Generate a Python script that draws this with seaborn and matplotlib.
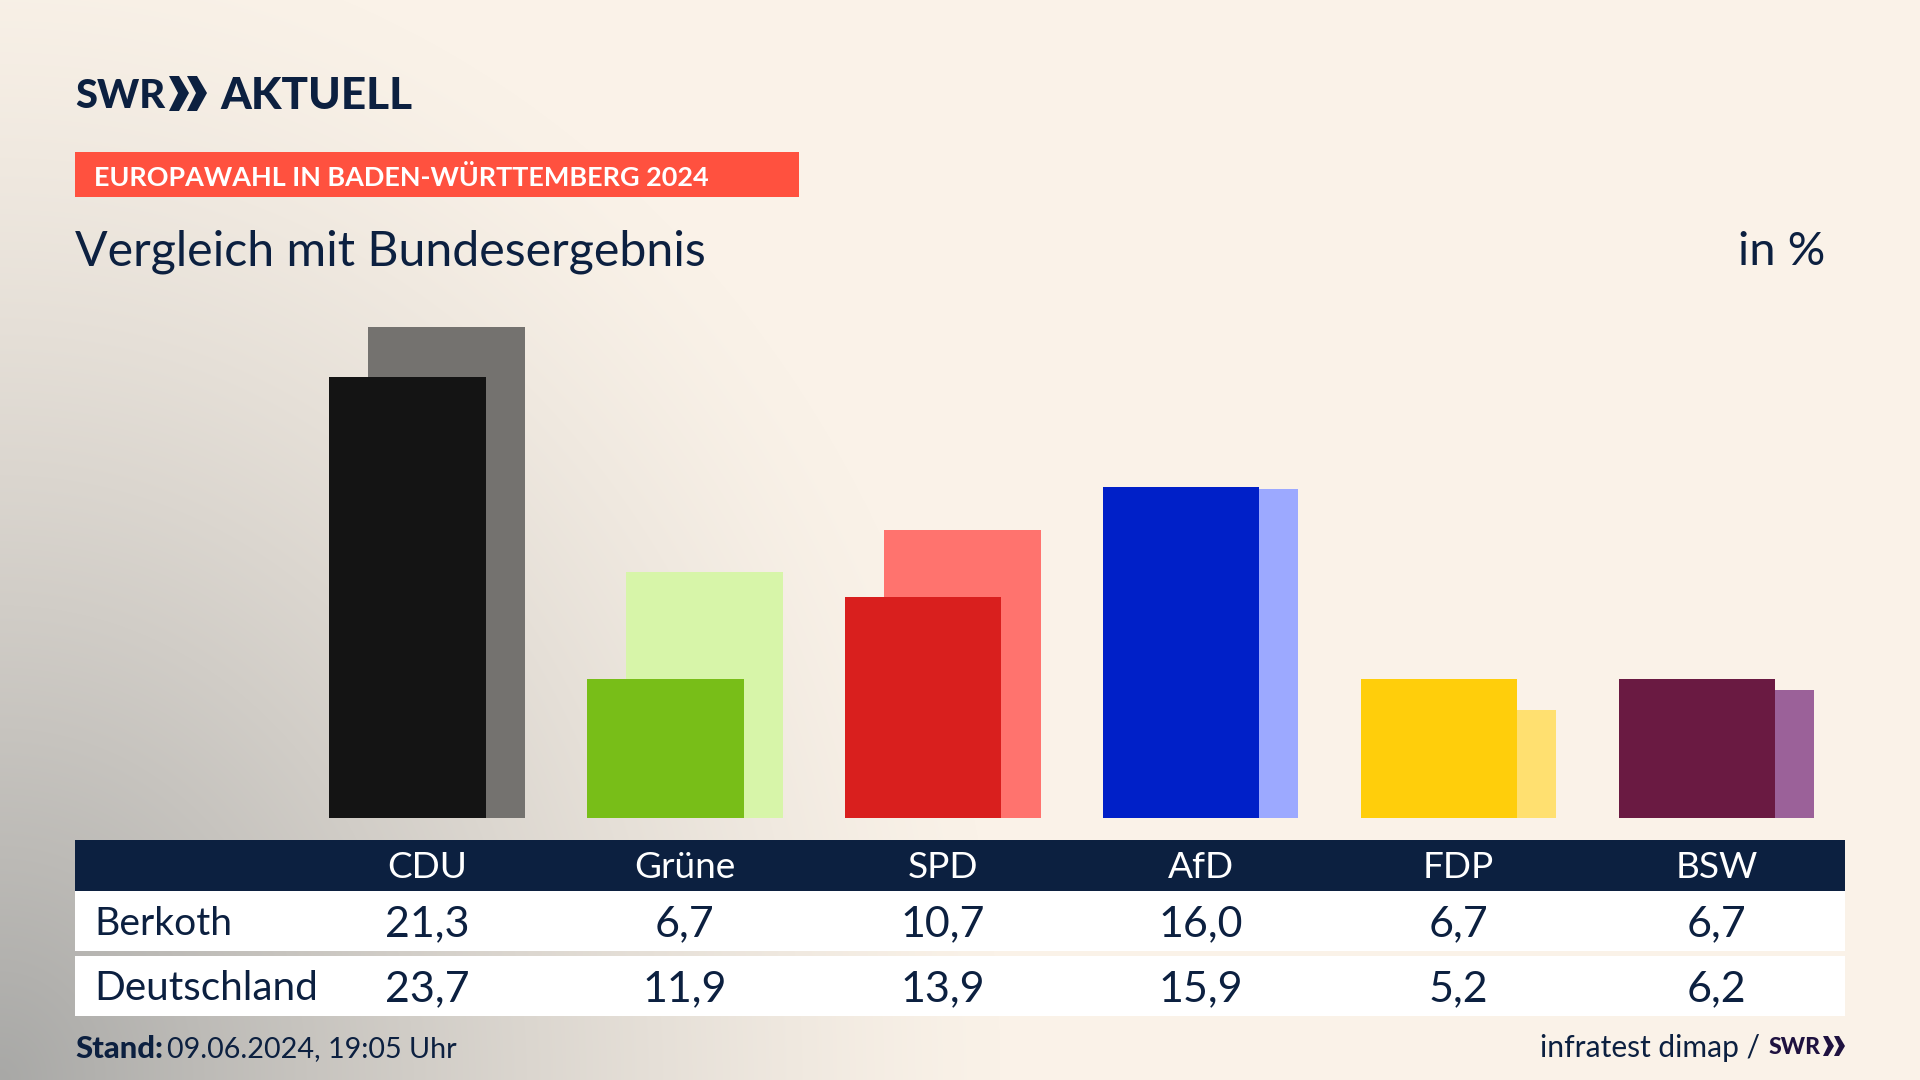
import numpy as np
import pandas as pd
import matplotlib
matplotlib.use("Agg")
import matplotlib.pyplot as plt
from matplotlib.patches import Rectangle, Polygon
import seaborn as sns

parties = ["CDU", "Grüne", "SPD", "AfD", "FDP", "BSW"]
berkoth = [21.3, 6.7, 10.7, 16.0, 6.7, 6.7]
deutschland = [23.7, 11.9, 13.9, 15.9, 5.2, 6.2]
dark_colors = ["#141414", "#78BE18", "#D91F1E", "#0020C8", "#FFCE0B", "#6A1A42"]
light_colors = ["#74726F", "#D7F5A9", "#FF736E", "#9CA9FF", "#FFE070", "#9B6199"]

NAVY = "#0C2040"
FONT = "Lato"


def px(size):
    # font size in pixels to points, dpi is 100
    return size * 0.72


sns.set_theme(style="white")
plt.rcParams["font.family"] = [FONT, "DejaVu Sans"]

fig = plt.figure(figsize=(19.2, 10.8), dpi=100)

# background with the grey glow from the bottom left
bg = fig.add_axes([0, 0, 1, 1])
yy, xx = np.mgrid[0:1080, 0:1920]
dist = np.sqrt((xx / 1000.0) ** 2 + ((1080 - yy) / 1150.0) ** 2)
t = np.clip(1 - dist, 0, 1) ** 1.3
base = np.array([250, 242, 232]) / 255
grey = np.array([168, 168, 166]) / 255
img = base[None, None, :] * (1 - t[..., None]) + grey[None, None, :] * t[..., None]
bg.imshow(img, aspect="auto", extent=(0, 1920, 1080, 0))
bg.set_xlim(0, 1920)
bg.set_ylim(1080, 0)
bg.axis("off")

# bars, one unit on x is one party column
step = 257.9
unit = 20.7
ax = fig.add_axes([0, 0, 1, 1], facecolor="none")
pos = np.arange(len(parties))
shift = 19.5 / step
sns.barplot(x=pos + shift, y=deutschland, hue=parties, palette=light_colors, width=156.4 / step,
            native_scale=True, dodge=False, legend=False, saturation=1, linewidth=0, ax=ax)
sns.barplot(x=pos - shift, y=berkoth, hue=parties, palette=dark_colors, width=156.4 / step,
            native_scale=True, dodge=False, legend=False, saturation=1, linewidth=0, ax=ax)
ax.set_xlim(-427 / step, (1920 - 427) / step)
ax.set_ylim(-(1080 - 818) / unit, 818 / unit)
ax.axis("off")

# everything else in pixel coordinates
top = fig.add_axes([0, 0, 1, 1], facecolor="none")
top.set_xlim(0, 1920)
top.set_ylim(1080, 0)
top.axis("off")

# logo
top.text(75, 96, "SWR", fontsize=px(40), fontweight="black", color=NAVY, ha="left", va="center")
for x0 in (169, 187):
    top.add_patch(Polygon([(x0, 76), (x0 + 10, 76), (x0 + 20, 93), (x0 + 10, 111), (x0, 111), (x0 + 9, 93)],
                          color=NAVY, lw=0))
top.text(220, 96, "AKTUELL", fontsize=px(44), fontweight="black", color=NAVY, ha="left", va="center")

# banner and headline
top.add_patch(Rectangle((75, 152), 724, 45, color="#FF513F", lw=0))
top.text(94, 177, "EUROPAWAHL IN BADEN-WÜRTTEMBERG 2024", fontsize=px(27), fontweight="bold",
         color="white", ha="left", va="center")
top.text(75, 252, "Vergleich mit Bundesergebnis", fontsize=px(48.3), color=NAVY, ha="left", va="center")
top.text(1825, 252, "in %", fontsize=px(47), color=NAVY, ha="right", va="center")

# table
top.add_patch(Rectangle((75, 840), 1770, 51, color=NAVY, lw=0))
top.add_patch(Rectangle((75, 891), 1770, 60, color="white", lw=0))
top.add_patch(Rectangle((75, 956), 1770, 60, color="white", lw=0))
top.text(94, 924, "Berkoth", fontsize=px(39), color=NAVY, ha="left", va="center")
top.text(94, 989, "Deutschland", fontsize=px(40.5), color=NAVY, ha="left", va="center")
for i, party in enumerate(parties):
    cx = 427 + i * step
    top.text(cx, 868, party, fontsize=px(37), color="white", ha="center", va="center")
    top.text(cx, 924, f"{berkoth[i]:.1f}".replace(".", ","), fontsize=px(43), color=NAVY, ha="center", va="center")
    top.text(cx, 989, f"{deutschland[i]:.1f}".replace(".", ","), fontsize=px(43), color=NAVY, ha="center", va="center")

# footer
top.text(75, 1049, "Stand:", fontsize=px(31), fontweight="black", color=NAVY, ha="left", va="center")
top.text(167, 1049, "09.06.2024, 19:05 Uhr", fontsize=px(28.7), color=NAVY, ha="left", va="center")
top.text(1760, 1048, "infratest dimap /", fontsize=px(30), color=NAVY, ha="right", va="center")
top.text(1769, 1047, "SWR", fontsize=px(23), fontweight="black", color="#1F1240", ha="left", va="center")
for x0 in (1823, 1834):
    top.add_patch(Polygon([(x0, 1036), (x0 + 5, 1036), (x0 + 11, 1046), (x0 + 5, 1056), (x0, 1056), (x0 + 5, 1046)],
                          color="#1F1240", lw=0))

fig.savefig("out.png", dpi=100)
